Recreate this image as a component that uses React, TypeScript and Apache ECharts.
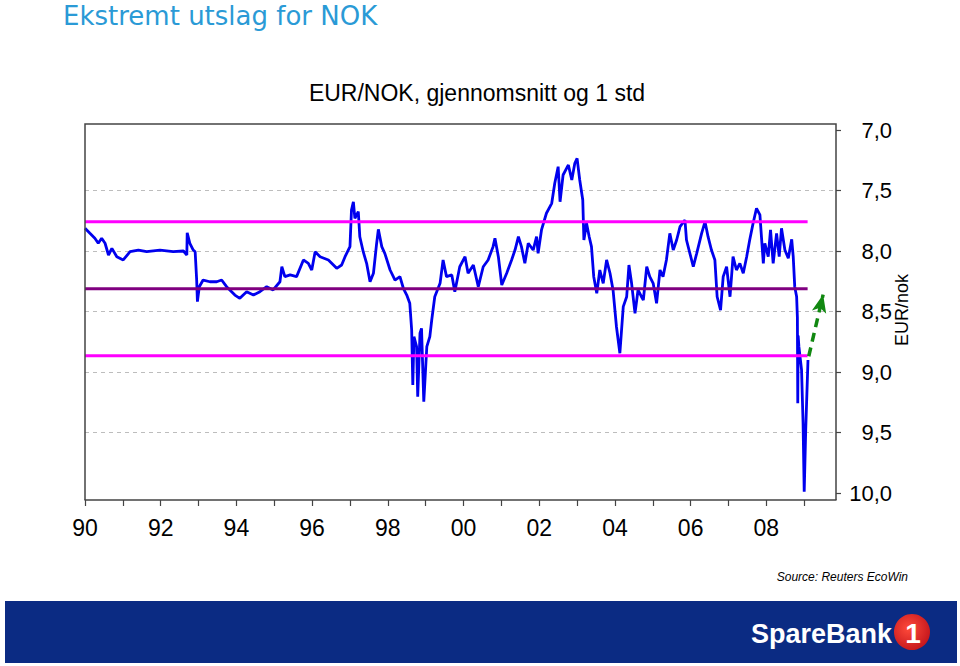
import React, { useEffect, useRef } from "react";
import * as echarts from "echarts";

const years = [
  1990.0, 1990.13, 1990.26, 1990.35, 1990.44, 1990.53, 1990.62, 1990.71, 1990.84, 1991.01,
  1991.19, 1991.41, 1991.63, 1991.98, 1992.33, 1992.6, 1992.69, 1992.7, 1992.77, 1992.86,
  1992.91, 1992.95, 1992.97, 1993.02, 1993.12, 1993.3, 1993.48, 1993.61, 1993.74, 1993.96,
  1994.09, 1994.27, 1994.45, 1994.62, 1994.8, 1994.97, 1995.15, 1995.2, 1995.28, 1995.42,
  1995.59, 1995.77, 1995.9, 1995.99, 1996.08, 1996.21, 1996.43, 1996.65, 1996.78, 1996.87,
  1997.0, 1997.04, 1997.09, 1997.13, 1997.22, 1997.26, 1997.35, 1997.44, 1997.53, 1997.62,
  1997.7, 1997.75, 1997.84, 1997.92, 1998.06, 1998.19, 1998.32, 1998.41, 1998.5, 1998.58,
  1998.63, 1998.66, 1998.69, 1998.76, 1998.79, 1998.85, 1998.89, 1998.95, 1999.03, 1999.11,
  1999.16, 1999.24, 1999.38, 1999.46, 1999.55, 1999.69, 1999.77, 1999.9, 2000.04, 2000.12,
  2000.26, 2000.39, 2000.52, 2000.65, 2000.78, 2000.83, 2000.92, 2001.01, 2001.14, 2001.27,
  2001.36, 2001.45, 2001.53, 2001.62, 2001.71, 2001.84, 2001.93, 2001.97, 2002.06, 2002.19,
  2002.33, 2002.41, 2002.5, 2002.55, 2002.63, 2002.77, 2002.86, 2002.94, 2003.0, 2003.07,
  2003.15, 2003.18, 2003.25, 2003.32, 2003.38, 2003.44, 2003.52, 2003.6, 2003.69, 2003.78,
  2003.87, 2003.95, 2004.04, 2004.13, 2004.22, 2004.31, 2004.37, 2004.44, 2004.53, 2004.61,
  2004.7, 2004.75, 2004.84, 2004.92, 2005.01, 2005.1, 2005.19, 2005.27, 2005.36, 2005.45,
  2005.54, 2005.63, 2005.72, 2005.85, 2005.89, 2005.98, 2006.07, 2006.16, 2006.29, 2006.38,
  2006.46, 2006.55, 2006.64, 2006.7, 2006.79, 2006.86, 2006.95, 2007.04, 2007.12, 2007.21,
  2007.3, 2007.39, 2007.48, 2007.56, 2007.65, 2007.74, 2007.83, 2007.92, 2007.96, 2008.05,
  2008.11, 2008.18, 2008.27, 2008.34, 2008.4, 2008.49, 2008.58, 2008.67, 2008.71, 2008.75,
  2008.8, 2008.82, 2008.83, 2008.84, 2008.86, 2008.93, 2008.97, 2009.0, 2009.04, 2009.1,
];

const eurNok = [
  7.812, 7.854, 7.895, 7.936, 7.895, 7.936, 8.033, 7.978, 8.047, 8.074,
  8.006, 7.992, 8.006, 7.992, 8.006, 8.0, 8.033, 7.849, 7.936, 7.992,
  8.006, 8.24, 8.419, 8.295, 8.24, 8.254, 8.254, 8.24, 8.295, 8.364,
  8.391, 8.336, 8.364, 8.336, 8.295, 8.322, 8.254, 8.13, 8.212, 8.198,
  8.212, 8.074, 8.102, 8.157, 8.006, 8.047, 8.074, 8.143, 8.116, 8.047,
  7.964, 7.661, 7.593, 7.73, 7.675, 7.882, 8.006, 8.102, 8.254, 8.184,
  7.95, 7.821, 7.964, 8.019, 8.157, 8.24, 8.212, 8.308, 8.364, 8.432,
  8.653, 9.107, 8.708, 8.791, 9.204, 8.68, 8.639, 9.245, 8.791, 8.708,
  8.57, 8.378, 8.267, 8.074, 8.212, 8.198, 8.336, 8.13, 8.047, 8.184,
  8.116, 8.295, 8.13, 8.074, 7.964, 7.895, 8.047, 8.281, 8.184, 8.074,
  7.992, 7.882, 7.964, 8.102, 7.936, 7.992, 7.882, 8.019, 7.826, 7.688,
  7.606, 7.44, 7.303, 7.593, 7.372, 7.289, 7.413, 7.275, 7.234, 7.413,
  7.579, 7.909, 7.771, 7.882, 7.964, 8.212, 8.35, 8.157, 8.267, 8.074,
  8.184, 8.322, 8.626, 8.845, 8.46, 8.378, 8.116, 8.267, 8.515, 8.322,
  8.378, 8.405, 8.13, 8.212, 8.267, 8.432, 8.157, 8.212, 8.074, 7.854,
  7.992, 7.909, 7.799, 7.744, 7.909, 8.019, 8.13, 8.019, 7.854, 7.758,
  7.882, 7.992, 8.074, 8.378, 8.488, 8.212, 8.13, 8.378, 8.047, 8.157,
  8.102, 8.184, 8.047, 7.909, 7.771, 7.647, 7.702, 8.102, 7.936, 8.047,
  7.826, 8.102, 7.854, 8.047, 7.812, 7.992, 8.06, 7.903, 8.047, 8.295,
  8.378, 8.55, 9.259, 8.7, 8.791, 8.983, 9.424, 9.989, 9.479, 8.901,
];

// average and +/- 1 standard deviation
const bandLabels = ["upper", "mean", "lower"];
const bandValues = [7.758, 8.311, 8.865];
const bandYears = [1990, 2009.09];

// arrow (annotation) endpoints
const arrowYears = [2009.12, 2009.5];
const arrowValues = [8.87, 8.36];

const yTicks = [7.0, 7.5, 8.0, 8.5, 9.0, 9.5, 10.0];

const FONT = "'Liberation Sans', Arial, sans-serif";

export default function App() {
  const ref = useRef<HTMLDivElement>(null);

  useEffect(() => {
    document.body.style.margin = "0";
    const chart = echarts.init(ref.current!, null, { renderer: "svg" });
    const bandColors = ["#ff00ff", "#800080", "#ff00ff"];

    const option: any = {
      animation: false,
      backgroundColor: "#ffffff",
      grid: { left: 85, right: 124, top: 130, bottom: 173, containLabel: false },
      xAxis: {
        type: "value",
        min: 1990,
        max: 2009.84,
        interval: 1,
        offset: 7,
        axisLine: { show: true, lineStyle: { color: "#444", width: 1.5 } },
        axisTick: { show: true, length: 6, lineStyle: { color: "#444", width: 1.2 } },
        splitLine: { show: false },
        axisLabel: {
          fontSize: 23,
          color: "#000",
          fontFamily: FONT,
          margin: 16,
          showMaxLabel: false,
          formatter: (v: number) => {
            if (Math.abs(v - Math.round(v)) > 1e-6) return "";
            const y = Math.round(v);
            if (y % 2 !== 0) return "";
            return String(y % 100).padStart(2, "0");
          },
        },
      },
      yAxis: {
        type: "value",
        position: "right",
        inverse: true,
        min: yTicks[0],
        max: yTicks[yTicks.length - 1],
        interval: 0.5,
        axisLine: { show: false },
        axisTick: { show: true, length: 5, lineStyle: { color: "#444", width: 1.2 } },
        splitLine: {
          show: true,
          showMinLine: false,
          showMaxLine: false,
          lineStyle: { color: "#bdbdbd", type: [4, 4], width: 1 },
        },
        axisLabel: {
          fontSize: 22,
          color: "#000",
          fontFamily: FONT,
          align: "right",
          margin: 56,
          formatter: (v: number) => v.toFixed(1).replace(".", ","),
        },
      },
      series: [
        {
          name: "EUR/NOK",
          type: "line",
          data: years.map((y, i) => [y, eurNok[i]]),
          showSymbol: false,
          symbol: "none",
          lineStyle: { color: "#0000ee", width: 2.8 },
          silent: true,
          z: 3,
          markLine: {
            silent: true,
            symbol: ["none", "arrow"],
            symbolSize: [11, 18],
            label: { show: false },
            lineStyle: { color: "#118811", width: 3.5, type: [9, 6] },
            data: [
              [
                { coord: [arrowYears[0], arrowValues[0]] },
                { coord: [arrowYears[1], arrowValues[1]] },
              ],
            ],
          },
        },
        ...bandValues.map((v, i) => ({
          name: bandLabels[i],
          type: "line",
          data: bandYears.map((y) => [y, v]),
          showSymbol: false,
          symbol: "none",
          silent: true,
          lineStyle: { color: bandColors[i], width: 3 },
          z: 4,
        })),
      ],
      graphic: [
        {
          type: "polyline",
          shape: { points: [[85, 500], [85, 124], [836, 124], [836, 500]] },
          style: { stroke: "#444", lineWidth: 1.5, fill: null },
          silent: true,
          z: 10,
        },
        {
          type: "text",
          x: 63,
          y: 16,
          style: {
            text: "Ekstremt utslag for NOK",
            fontSize: 26,
            fontFamily: "'DejaVu Sans', sans-serif",
            fill: "#2a9ad6",
            verticalAlign: "middle",
            align: "left",
          },
        },
        {
          type: "text",
          x: 477,
          y: 93,
          style: {
            text: "EUR/NOK, gjennomsnitt og 1 std",
            fontSize: 23,
            fontFamily: FONT,
            fill: "#000",
            verticalAlign: "middle",
            align: "center",
          },
        },
        {
          type: "text",
          x: 902,
          y: 310,
          rotation: Math.PI / 2,
          style: {
            text: "EUR/nok",
            fontSize: 18,
            fontFamily: FONT,
            fill: "#000",
            verticalAlign: "middle",
            align: "center",
          },
        },
        {
          type: "text",
          x: 908,
          y: 577,
          style: {
            text: "Source: Reuters EcoWin",
            fontSize: 12,
            fontStyle: "italic",
            fontFamily: FONT,
            fill: "#000",
            verticalAlign: "middle",
            align: "right",
          },
        },
        {
          type: "rect",
          shape: { x: 5, y: 601, width: 952, height: 62 },
          style: { fill: "#0b2b83" },
        },
        {
          type: "text",
          x: 751,
          y: 634,
          style: {
            text: "SpareBank",
            fontSize: 27,
            fontWeight: "bold",
            fontFamily: FONT,
            fill: "#ffffff",
            verticalAlign: "middle",
            align: "left",
          },
        },
        {
          type: "circle",
          shape: { cx: 912, cy: 632, r: 18 },
          style: {
            fill: new echarts.graphic.RadialGradient(0.4, 0.4, 0.7, [
              { offset: 0, color: "#ff4a3a" },
              { offset: 1, color: "#c0121a" },
            ]),
          },
        },
        {
          type: "text",
          x: 913,
          y: 633,
          style: {
            text: "1",
            fontSize: 28,
            fontWeight: "bold",
            fontFamily: FONT,
            fill: "#ffffff",
            verticalAlign: "middle",
            align: "center",
          },
        },
      ],
    };

    chart.setOption(option);
    return () => chart.dispose();
  }, []);

  return (
    <div
      ref={ref}
      style={{ position: "fixed", left: 0, top: 0, width: 960, height: 666, background: "#fff" }}
    />
  );
}
